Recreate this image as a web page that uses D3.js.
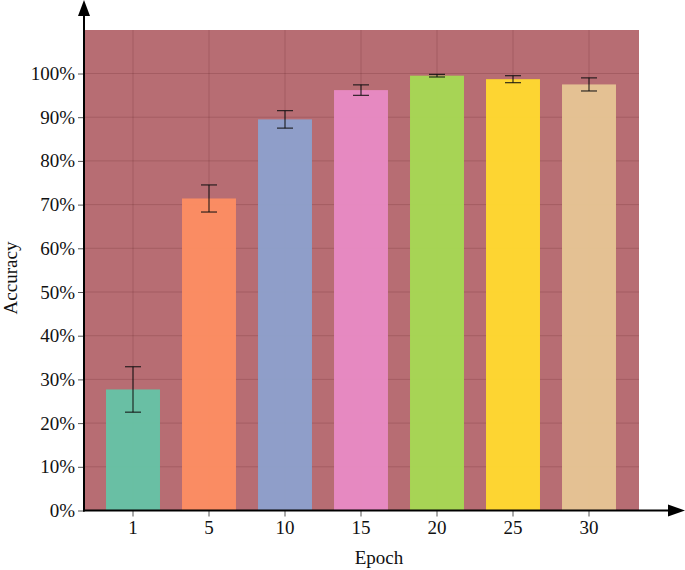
<!DOCTYPE html>
<html>
<head>
<meta charset="utf-8">
<script src="https://cdn.jsdelivr.net/npm/d3@7"></script>
<style>
  body { margin: 0; background: #fff; }
  text { font-family: "Liberation Serif", "DejaVu Serif", serif; fill: #111; }
</style>
</head>
<body>
<div id="graphic"></div>
<script>
// data
var epochs = ["1", "5", "10", "15", "20", "25", "30"];
var accuracy = [0.277, 0.714, 0.895, 0.962, 0.995, 0.987, 0.975];
var errors = [0.052, 0.031, 0.020, 0.012, 0.003, 0.008, 0.015];
var colors = ["#66c2a5", "#fc8d62", "#8da0cb", "#e78ac3", "#a6d854", "#ffd92f", "#e5c494"];
var yTicks = [0, 0.1, 0.2, 0.3, 0.4, 0.5, 0.6, 0.7, 0.8, 0.9, 1.0];

var W = 685, H = 570;
var svg = d3.select("#graphic").append("svg")
    .attr("width", W)
    .attr("height", H);

var plotLeft = 84, plotRight = 639, plotTop = 30, plotBottom = 510.5;
var serif = "Liberation Serif, DejaVu Serif, serif";

var xScale = d3.scaleBand()
    .domain(epochs)
    .range([95, 627])
    .paddingInner(0.29)
    .paddingOuter(0.145);

var yScale = d3.scaleLinear()
    .domain([0, 1])
    .range([plotBottom, 73.5]);

// plot background
svg.append("rect")
    .attr("x", plotLeft)
    .attr("y", plotTop)
    .attr("width", plotRight - plotLeft)
    .attr("height", plotBottom - plotTop)
    .attr("fill", "#b76d73");

// grid
svg.append("g").selectAll("line")
    .data(yTicks)
    .enter().append("line")
    .attr("x1", plotLeft).attr("x2", plotRight)
    .attr("y1", d => yScale(d)).attr("y2", d => yScale(d))
    .attr("stroke", "rgba(60,0,10,0.15)");

svg.append("g").selectAll("line")
    .data(epochs)
    .enter().append("line")
    .attr("x1", d => xScale(d) + xScale.bandwidth() / 2)
    .attr("x2", d => xScale(d) + xScale.bandwidth() / 2)
    .attr("y1", plotTop).attr("y2", plotBottom)
    .attr("stroke", "rgba(60,0,10,0.15)");

// bars
svg.append("g").selectAll("rect")
    .data(epochs)
    .enter().append("rect")
    .attr("class", "bar")
    .attr("x", d => xScale(d))
    .attr("width", xScale.bandwidth())
    .attr("y", (d, i) => yScale(accuracy[i]))
    .attr("height", (d, i) => plotBottom - yScale(accuracy[i]))
    .attr("fill", (d, i) => colors[i])
    .attr("fill-opacity", 0.97);

// error bars
var eb = svg.append("g").attr("stroke", "#111").attr("stroke-width", 1.2).attr("stroke-opacity", 0.85);
epochs.forEach(function (d, i) {
    var cx = xScale(d) + xScale.bandwidth() / 2;
    var hi = yScale(accuracy[i] + errors[i]), lo = yScale(accuracy[i] - errors[i]);
    eb.append("line").attr("x1", cx).attr("x2", cx).attr("y1", hi).attr("y2", lo);
    eb.append("line").attr("x1", cx - 8).attr("x2", cx + 8).attr("y1", hi).attr("y2", hi);
    eb.append("line").attr("x1", cx - 8).attr("x2", cx + 8).attr("y1", lo).attr("y2", lo);
});

// y axis
var yAxis = d3.axisLeft(yScale)
    .tickValues(yTicks)
    .tickFormat(d3.format(".0%"))
    .tickSize(6)
    .tickPadding(3);
var gy = svg.append("g")
    .attr("transform", "translate(" + plotLeft + ",0)")
    .call(yAxis)
    .attr("font-family", serif)
    .attr("font-size", 19);
gy.select(".domain").remove();
gy.selectAll(".tick line").attr("stroke", "#555");
gy.selectAll(".tick text").attr("fill", "#111");

// x axis
var xAxis = d3.axisBottom(xScale).tickSize(6).tickPadding(4);
var gx = svg.append("g")
    .attr("transform", "translate(0," + plotBottom + ")")
    .call(xAxis)
    .attr("font-family", serif)
    .attr("font-size", 19);
gx.select(".domain").remove();
gx.selectAll(".tick line").attr("stroke", "#555");
gx.selectAll(".tick text").attr("fill", "#111");

// axis lines with arrows
svg.append("line")
    .attr("x1", plotLeft).attr("x2", plotLeft)
    .attr("y1", plotBottom + 1).attr("y2", 14)
    .attr("stroke", "#000").attr("stroke-width", 2);
svg.append("path")
    .attr("d", "M" + plotLeft + ",0 L" + (plotLeft - 6) + ",16 L" + (plotLeft + 6) + ",16 Z")
    .attr("fill", "#000");

svg.append("line")
    .attr("x1", plotLeft - 1).attr("x2", 670)
    .attr("y1", plotBottom).attr("y2", plotBottom)
    .attr("stroke", "#000").attr("stroke-width", 2);
svg.append("path")
    .attr("d", "M685," + plotBottom + " L668," + (plotBottom - 6) + " L668," + (plotBottom + 6) + " Z")
    .attr("fill", "#000");

// axis titles
svg.append("text")
    .attr("x", 379)
    .attr("y", 564)
    .attr("text-anchor", "middle")
    .attr("font-family", serif)
    .attr("font-size", 19)
    .text("Epoch");

svg.append("text")
    .attr("transform", "translate(17,278) rotate(-90)")
    .attr("text-anchor", "middle")
    .attr("font-family", serif)
    .attr("font-size", 19)
    .text("Accuracy");
</script>
</body>
</html>
